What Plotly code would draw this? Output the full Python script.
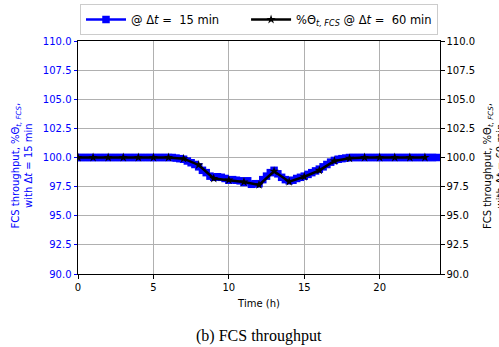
import plotly.graph_objects as go

# 15-min series (t = 0 .. 23.75 h)
t15 = [i * 0.25 for i in range(96)]
v15 = ([100.0] * 24 +
       [100.0, 100.0, 99.95, 99.9,
        99.85, 99.7, 99.55, 99.4,
        99.2, 98.9, 98.7, 98.4,
        98.3, 98.35, 98.3, 98.2,
        98.05, 98.1, 98.05, 98.0,
        97.85, 98.0, 97.7, 97.75,
        97.75, 98.1, 98.4, 98.7,
        98.9, 98.6, 98.3, 98.1,
        98.0, 98.05, 98.2, 98.3,
        98.4, 98.55, 98.7, 98.85,
        99.0, 99.2, 99.4, 99.6,
        99.75, 99.85, 99.9, 99.95] +
       [100.0] * 24)

# 60-min series (t = 0 .. 23 h)
t60 = list(range(24))
v60 = [100.0, 100.0, 100.0, 100.0, 100.0, 100.0, 100.0, 99.9, 99.36, 98.2,
       98.07, 97.9, 97.65, 98.82, 97.92, 98.35, 98.9, 99.7, 99.93, 100.0,
       100.0, 100.0, 100.0, 100.0]

x_ticks = [0, 5, 10, 15, 20]
y_ticks = [90.0, 92.5, 95.0, 97.5, 100.0, 102.5, 105.0, 107.5, 110.0]
y_tick_text = [f"{v:.1f}" for v in y_ticks]

left_title = "FCS throughput, %Θ<sub><i>t, FCS</i></sub>,<br>with Δ<i>t</i> = 15 min"
right_title = "FCS throughput, %Θ<sub><i>t, FCS</i></sub>,<br>with Δ<i>t</i> = 60 min"
caption = "(b) FCS throughput"

FONT = "DejaVu Sans"
BLUE = "#0000ff"

fig = go.Figure()
fig.add_trace(go.Scatter(
    x=t15, y=v15, mode="lines+markers",
    name="@ Δ<i>t</i> =  15 min      ",
    line=dict(color=BLUE, width=2.4),
    marker=dict(symbol="square", size=7.5, color=BLUE),
))
fig.add_trace(go.Scatter(
    x=t60, y=v60, mode="lines+markers", yaxis="y2",
    name="%Θ<sub><i>t, FCS</i></sub> @ Δ<i>t</i> =  60 min",
    line=dict(color="black", width=2.5),
    marker=dict(symbol="star", size=7, color="black"),
))

fig.update_layout(
    width=499, height=347,
    margin=dict(l=78, r=59, t=41, b=73, autoexpand=False),
    paper_bgcolor="white", plot_bgcolor="white",
    font=dict(family=FONT, size=10, color="black"),
    showlegend=True,
    legend=dict(
        orientation="h", x=0.5, xanchor="center",
        yref="container", y=1 - 4 / 347, yanchor="top",
        bordercolor="#cccccc", borderwidth=1, bgcolor="white",
        font=dict(family=FONT, size=11.5), itemwidth=40,
    ),
    xaxis=dict(
        range=[0, 24], tickvals=x_ticks, ticktext=[str(v) for v in x_ticks],
        showgrid=True, gridcolor="#b0b0b0", gridwidth=0.8,
        showline=True, linecolor="black", linewidth=1, mirror=True,
        ticks="outside", ticklen=3.5, tickwidth=0.8, tickcolor="black",
        zeroline=False, automargin=False,
        title=dict(text="Time (h)", standoff=8, font=dict(size=10)),
    ),
    yaxis=dict(
        range=[90, 110], tickvals=y_ticks, ticktext=y_tick_text,
        showgrid=True, gridcolor="#b0b0b0", gridwidth=0.8,
        showline=True, linecolor="black", linewidth=1,
        ticks="outside", ticklen=3.5, tickwidth=0.8, tickcolor=BLUE,
        tickfont=dict(color=BLUE, size=10), zeroline=False, automargin=False,
    ),
    yaxis2=dict(
        range=[90, 110], tickvals=y_ticks, ticktext=y_tick_text,
        overlaying="y", side="right", showgrid=False,
        showline=True, linecolor="black", linewidth=1,
        ticks="outside", ticklen=3.5, tickwidth=0.8, tickcolor="black",
        tickfont=dict(color="black", size=10), zeroline=False, automargin=False,
    ),
    annotations=[
        dict(text=left_title, xref="paper", yref="paper",
             x=-0.156, y=0.4635, xanchor="center", yanchor="middle",
             textangle=-90, showarrow=False,
             font=dict(family=FONT, size=10, color=BLUE)),
        dict(text=right_title, xref="paper", yref="paper",
             x=1.149, y=0.4635, xanchor="center", yanchor="middle",
             textangle=-90, showarrow=False,
             font=dict(family=FONT, size=10, color="black")),
        dict(text=caption, xref="paper", yref="paper",
             x=0.5, y=-0.266, xanchor="center", yanchor="middle", showarrow=False,
             font=dict(family="Liberation Serif", size=16, color="black")),
    ],
)

fig.write_html("out.html", config={"displayModeBar": False},
               post_script="document.body.style.margin='0';document.body.style.padding='0';")
